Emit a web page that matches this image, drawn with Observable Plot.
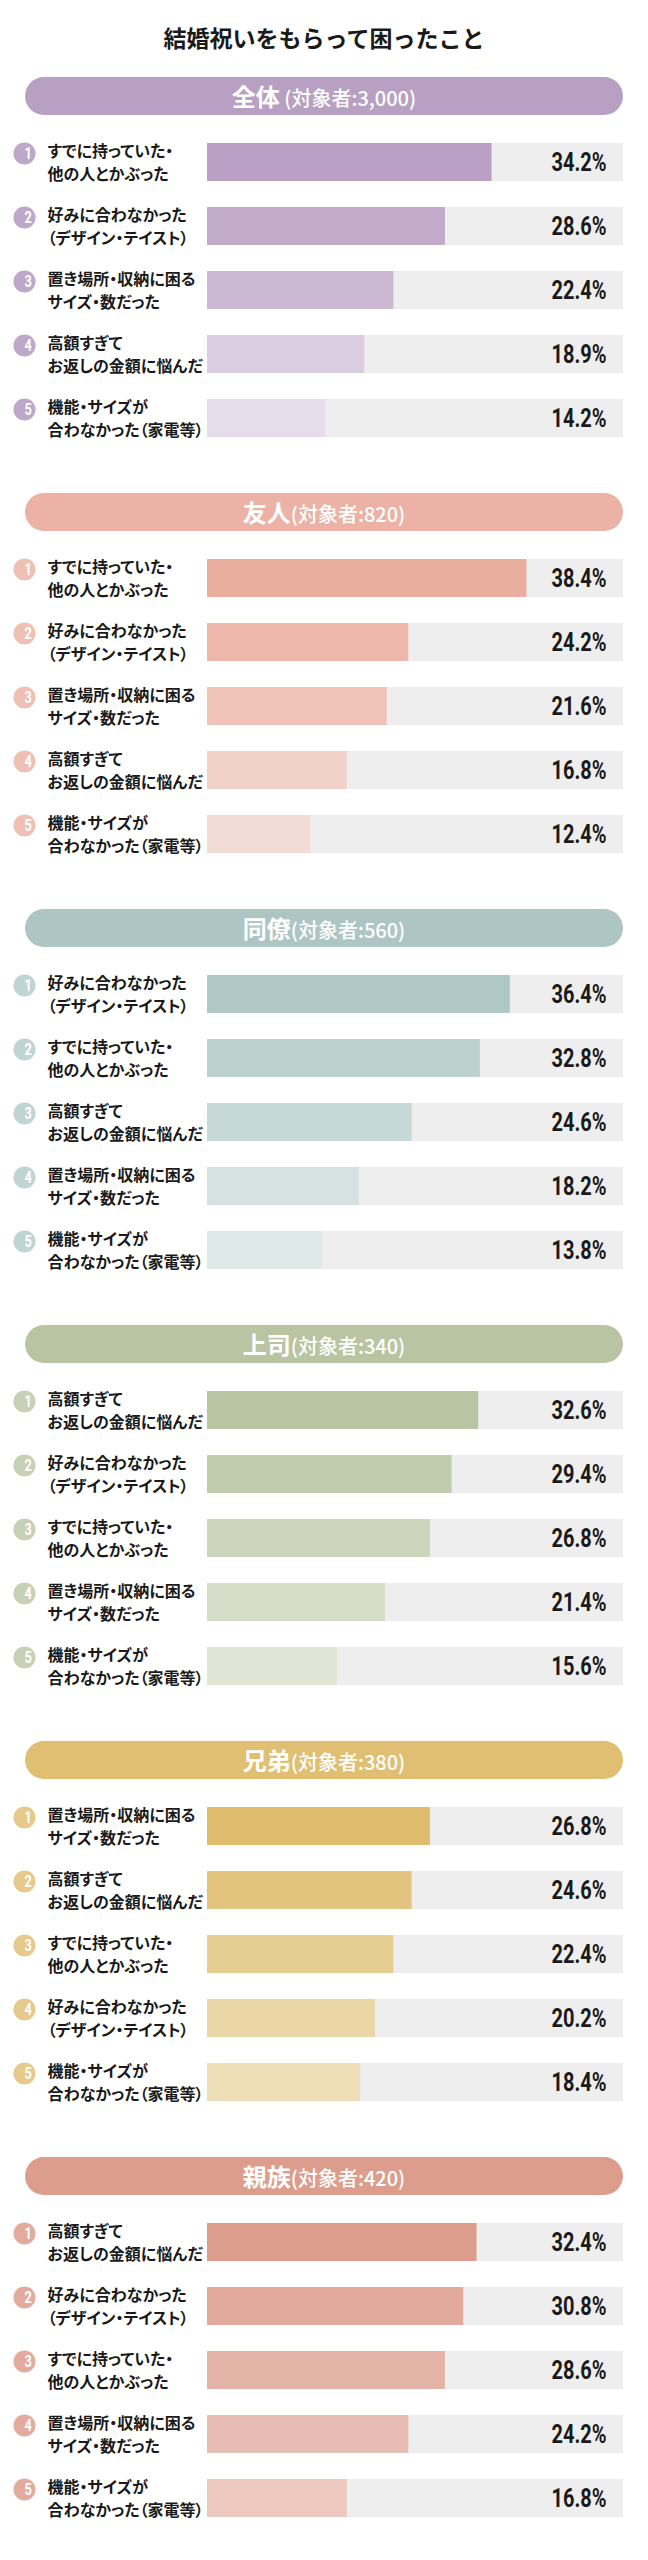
<!DOCTYPE html>
<html>
<head>
<meta charset="utf-8">
<script src="https://cdn.jsdelivr.net/npm/d3@7"></script>
<script src="https://cdn.jsdelivr.net/npm/@observablehq/plot@0.6"></script>
<style>
  body { margin: 0; background: #fff; }
  #chart { width: 648px; font-family: "Noto Sans CJK JP", "Noto Sans", sans-serif; }
  .title { height: 77px; box-sizing: border-box; padding-top: 23px; line-height: 28px; font-size: 23px; font-weight: 700; text-align: center; color: #1a1a1a; }
  .pill { margin: 0 25px; height: 38px; border-radius: 19px; line-height: 38px; text-align: center; color: #fff; font-weight: 700; white-space: nowrap; }
  .pill .big { font-size: 24px; }
  .pill .small { font-size: 20px; font-weight: 500; }
  .lbl { font-feature-settings: "palt"; }
  svg { display: block; }
</style>
</head>
<body>
<div id="chart"></div>
<script>
// ---- data ----
const title = "結婚祝いをもらって困ったこと";
const sectionNames = ["全体", "友人", "同僚", "上司", "兄弟", "親族"];
const sectionCounts = ["3,000", "820", "560", "340", "380", "420"];
const sectionSpace = [" ", "", "", "", "", ""];

const A = "すでに持っていた・\n他の人とかぶった";
const B = "好みに合わなかった\n（デザイン・テイスト）";
const C = "置き場所・収納に困る\nサイズ・数だった";
const D = "高額すぎて\nお返しの金額に悩んだ";
const E = "機能・サイズが\n合わなかった（家電等）";

const labelsZentai = [A, B, C, D, E];
const valuesZentai = [34.2, 28.6, 22.4, 18.9, 14.2];
const labelsYujin = [A, B, C, D, E];
const valuesYujin = [38.4, 24.2, 21.6, 16.8, 12.4];
const labelsDoryo = [B, A, D, C, E];
const valuesDoryo = [36.4, 32.8, 24.6, 18.2, 13.8];
const labelsJoshi = [D, B, A, C, E];
const valuesJoshi = [32.6, 29.4, 26.8, 21.4, 15.6];
const labelsKyodai = [C, D, A, B, E];
const valuesKyodai = [26.8, 24.6, 22.4, 20.2, 18.4];
const labelsShinzoku = [D, B, A, C, E];
const valuesShinzoku = [32.4, 30.8, 28.6, 24.2, 16.8];

const sectionLabels = [labelsZentai, labelsYujin, labelsDoryo, labelsJoshi, labelsKyodai, labelsShinzoku];
const sectionValues = [valuesZentai, valuesYujin, valuesDoryo, valuesJoshi, valuesKyodai, valuesShinzoku];
const ranks = [1, 2, 3, 4, 5];

// ---- styles ----
const pillColors = ["#b8a0c3", "#ebb2a5", "#adc6c4", "#b9c4a3", "#e0bf73", "#dc9d8c"];
const circleColors = ["#bea8c9", "#efc0b4", "#c0d5d3", "#c8d0b5", "#e6ca8c", "#e3ab9e"];
const barColors = [
  ["#b9a0c4", "#c2abcb", "#cbb9d4", "#dccee2", "#e7dcea"],
  ["#eaae9f", "#edb8ab", "#efc3b8", "#f2d1c8", "#f3dcd6"],
  ["#b0c8c5", "#bdd1cf", "#c7d9d7", "#d5e2e1", "#dfe9e8"],
  ["#b8c4a2", "#c1cbad", "#ccd5bb", "#d6ddc9", "#e0e5d6"],
  ["#e0bc6f", "#e3c47f", "#e6cd92", "#ead6a6", "#eedfb9"],
  ["#dc9d8c", "#e1aa9b", "#e4b3a7", "#e7bcb2", "#ecc8bf"]
];
const trackColor = "#eeeeee";
const textColor = "#1a1a1a";
const numFont = "Roboto, 'DejaVu Sans', sans-serif";

const root = document.getElementById("chart");
const t = document.createElement("div");
t.className = "title";
t.textContent = title;
root.appendChild(t);

function condense(svg, cls, k) {
  svg.querySelectorAll("g." + cls + " text").forEach(el => {
    const tr = el.getAttribute("transform") || "";
    el.setAttribute("transform", tr + ` scale(${k},1)`);
  });
}

sectionNames.forEach((name, s) => {
  const pill = document.createElement("div");
  pill.className = "pill";
  pill.style.background = pillColors[s];
  const big = document.createElement("span");
  big.className = "big";
  big.textContent = name;
  const small = document.createElement("span");
  small.className = "small";
  small.textContent = sectionSpace[s] + "(対象者:" + sectionCounts[s] + ")";
  pill.appendChild(big);
  pill.appendChild(small);
  root.appendChild(pill);

  const rows = ranks.map((r, i) => ({
    rank: r,
    label: sectionLabels[s][i],
    value: sectionValues[s][i],
    color: barColors[s][i]
  }));

  const plot = Plot.plot({
    width: 648,
    height: 378,
    marginLeft: 207,
    marginRight: 25,
    marginTop: 15,
    marginBottom: 43,
    x: {domain: [0, 50], axis: null},
    y: {type: "band", domain: ranks, paddingInner: 0.4, paddingOuter: 0.2, axis: null},
    color: {type: "identity"},
    marks: [
      Plot.barX(rows, {x1: 0, x2: 50, y: "rank", fill: trackColor}),
      Plot.barX(rows, {x: "value", y: "rank", fill: "color"}),
      Plot.dot(rows, {y: "rank", frameAnchor: "left", dx: -183, dy: -9, r: 11, fill: circleColors[s]}),
      Plot.text(rows, {y: "rank", text: d => String(d.rank), frameAnchor: "left", dx: -183, dy: -9,
        fill: "#fff", fontSize: 16, fontWeight: "bold", fontFamily: numFont, className: "num"}),
      Plot.text(rows, {y: "rank", text: "label", frameAnchor: "left", dx: -160, dy: -1, textAnchor: "start",
        fontSize: 16, fontWeight: "bold", lineHeight: 1.4, fill: textColor,
        fontFamily: "'Noto Sans CJK JP', sans-serif", className: "lbl"}),
      Plot.text(rows, {y: "rank", x: 50, text: d => d.value.toFixed(1) + "%", textAnchor: "end", dx: -17,
        fontSize: 25, fontWeight: "bold", fill: textColor, fontFamily: numFont, className: "pct"})
    ]
  });
  condense(plot, "pct", 0.8);
  condense(plot, "num", 0.8);
  root.appendChild(plot);
});
</script>
</body>
</html>
